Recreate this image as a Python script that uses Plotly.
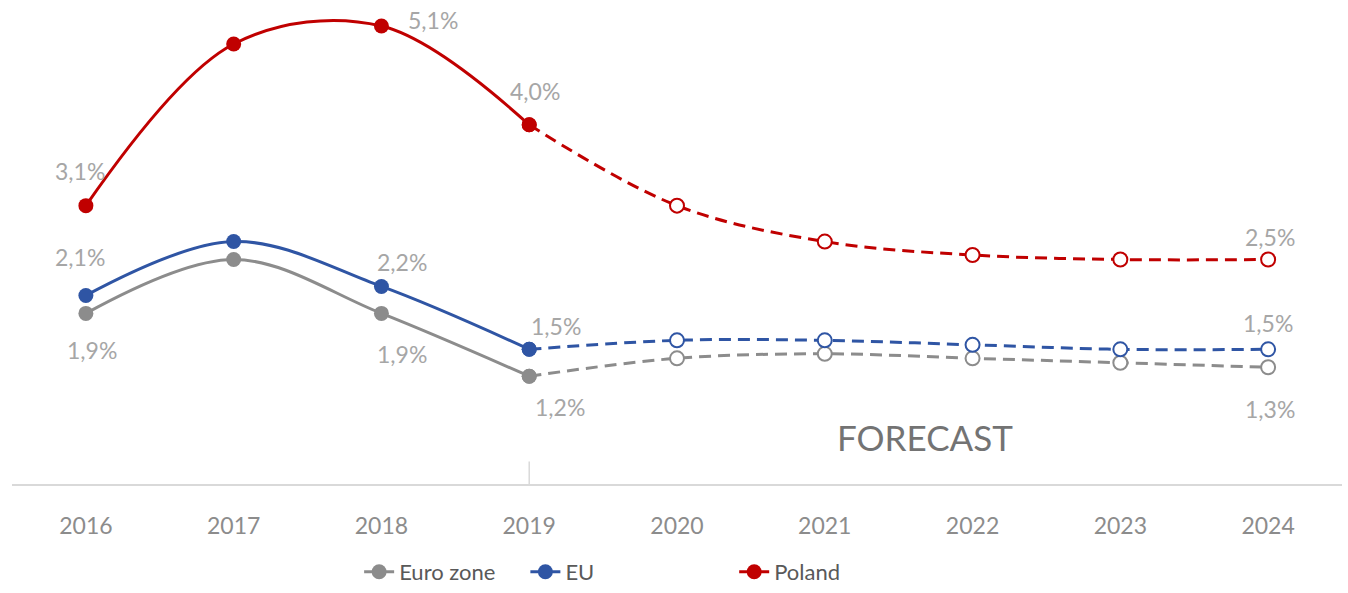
import plotly.graph_objects as go

years = ["2016", "2017", "2018", "2019", "2020", "2021", "2022", "2023", "2024"]
poland = [3.1, 4.9, 5.1, 4.0, 3.1, 2.7, 2.55, 2.5, 2.5]
eu = [2.1, 2.7, 2.2, 1.5, 1.6, 1.6, 1.55, 1.5, 1.5]
euro_zone = [1.9, 2.5, 1.9, 1.2, 1.4, 1.45, 1.4, 1.35, 1.3]

# index of the last actual year; later years are forecasts
last_actual = 3

series = [
    ("Euro zone", euro_zone, "#8c8c8c", "legend"),
    ("EU", eu, "#2f55a4", "legend2"),
    ("Poland", poland, "#c00000", "legend3"),
]

# labelled points: (series values, index, x shift, y shift)
labels = [
    (poland, 0, -6, 35), (poland, 2, 52, 6), (poland, 3, 6, 34), (poland, 8, 2, 23),
    (eu, 0, -6, 38), (eu, 2, 21, 24), (eu, 3, 27, 23), (eu, 8, 0, 26),
    (euro_zone, 0, 6, -37), (euro_zone, 2, 21, -41), (euro_zone, 3, 31, -31), (euro_zone, 8, 2, -42),
]

FONT = "Lato, 'Open Sans', sans-serif"
x_idx = list(range(len(years)))
DASH = "12px,7px"

fig = go.Figure()
for name, vals, color, leg in series:
    fig.add_trace(go.Scatter(
        x=x_idx[:last_actual + 1], y=vals[:last_actual + 1], name=name,
        mode="lines+markers", line=dict(color=color, width=3, shape="spline", smoothing=1.0),
        marker=dict(size=15, color=color), legend=leg, showlegend=True,
    ))
    fig.add_trace(go.Scatter(
        x=x_idx[last_actual:], y=vals[last_actual:], name=name,
        mode="lines", line=dict(color=color, width=3, dash=DASH, shape="spline", smoothing=1.0),
        showlegend=False,
    ))
    fig.add_trace(go.Scatter(
        x=x_idx[last_actual + 1:], y=vals[last_actual + 1:], name=name,
        mode="markers", marker=dict(size=14, color="white", line=dict(color=color, width=2)),
        showlegend=False,
    ))
    # redraw the last actual point on top of the dashed segment
    fig.add_trace(go.Scatter(
        x=[x_idx[last_actual]], y=[vals[last_actual]], mode="markers",
        marker=dict(size=15, color=color), showlegend=False,
    ))

for vals, i, dx, dy in labels:
    fig.add_annotation(
        x=i, y=vals[i], text=f"{vals[i]:.1f}%".replace(".", ","), showarrow=False,
        xshift=dx, yshift=dy, font=dict(family=FONT, size=23, color="#a6a6a6"),
    )

fig.add_annotation(
    x=5.68, y=0.52, text="FORECAST", showarrow=False,
    font=dict(family=FONT, size=35, color="#737373"),
)

# divider between actual and forecast years
fig.add_shape(type="line", x0=last_actual, x1=last_actual, y0=0, y1=0.25,
              line=dict(color="#d9d9d9", width=1.5))

legend_common = dict(orientation="h", yref="container", yanchor="bottom", y=0.0,
                     xref="paper", xanchor="left", bgcolor="rgba(0,0,0,0)",
                     font=dict(family=FONT, size=22, color="#595959"))

fig.update_layout(
    width=1348, height=593,
    margin=dict(l=12, r=6, t=0, b=109),
    plot_bgcolor="white", paper_bgcolor="white",
    xaxis=dict(
        range=[-0.5, 8.5], tickmode="array", tickvals=x_idx, ticktext=years,
        showgrid=False, zeroline=False, showline=True, linecolor="#d9d9d9", linewidth=2,
        ticks="", ticklabelstandoff=20,
        tickfont=dict(family=FONT, size=23, color="#8c8c8c"),
    ),
    yaxis=dict(range=[0, 5.39], visible=False),
    legend=dict(x=0.261, **legend_common),
    legend2=dict(x=0.386, **legend_common),
    legend3=dict(x=0.543, **legend_common),
)

fig.write_html("out.html")
